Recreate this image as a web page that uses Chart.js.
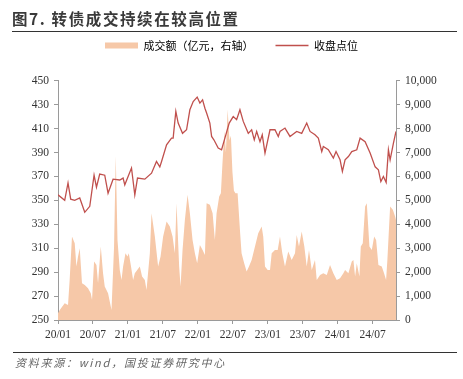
<!DOCTYPE html>
<html>
<head>
<meta charset="utf-8">
<script src="https://cdn.jsdelivr.net/npm/chart.js@4"></script>
<style>
  html, body { margin: 0; padding: 0; background: #fff; }
  #wrap { position: relative; width: 463px; height: 379px; overflow: hidden; }
  #title { position: absolute; left: 12px; top: 7px; font: bold 15.5px "Noto Sans CJK SC", sans-serif; color: #3a3a3a; letter-spacing: 1.6px; white-space: nowrap; }
  #rule1 { position: absolute; left: 12px; top: 31px; width: 445px; height: 0; border-top: 1.5px solid #333; }
  #rule2 { position: absolute; left: 13px; top: 352px; width: 444px; height: 0; border-top: 1.5px solid #333; }
  #source { position: absolute; left: 15px; top: 354px; font: italic 11px "Noto Sans CJK SC", sans-serif; color: #666; letter-spacing: 1.75px; white-space: nowrap; }
  canvas { position: absolute; left: 0; top: 0; }
</style>
</head>
<body>
<div id="wrap">
  <canvas id="c" width="463" height="379"></canvas>
  <div id="title">图7. 转债成交持续在较高位置</div>
  <div id="rule1"></div>
  <div id="rule2"></div>
  <div id="source">资料来源：wind，国投证券研究中心</div>
</div>
<script>
// x values are months since Jan 2020 (0 = 2020-01)
const tickLabels = ['20/01','20/07','21/01','21/07','22/01','22/07','23/01','23/07','24/01','24/07'];

const closeMonths = [0,1.15,1.72,2.18,2.87,3.73,4.59,5.45,6.19,6.6,7.16,8.02,8.59,9.45,10.6,11.17,11.46,12.61,13.18,13.64,14.9,16.05,16.9,17.47,17.77,18.63,19.48,19.76,20.22,20.62,21.37,22.06,22.63,23.2,23.88,24.35,24.81,25.21,25.5,26.06,26.36,26.75,27.49,28.07,28.64,29.38,30.07,30.65,31.22,31.79,32.65,33.23,33.68,34.09,34.66,35.05,35.52,36.38,37.23,37.8,38.09,38.95,39.81,40.96,41.82,42.68,43.25,44.1,44.67,45.26,45.53,46.39,47.25,47.71,48.4,48.8,49.26,49.83,50.41,51.27,51.84,52.7,53.56,54.42,54.98,55.4,55.84,56.31,56.7,56.99,57.56,58];
const closeValues = [354.6,350,364.6,351,350,352,340,345,371,361,372,371,356,367.7,367,368.6,363,377,354.6,368.6,367.7,372.7,382.5,378,382.5,396.4,402,402,424.3,414.6,406,409,425.7,432.6,436.3,431.3,434,427,423,414.6,403.4,400.6,393.7,392.3,402,414.6,420,417.4,425.7,416,406,409,400.6,407.6,399,404.8,389.5,409,409,403.4,407.6,410.4,403.4,407.6,406,414.6,407.6,404.8,402,390.8,395,392.3,385.3,390.8,383.9,374.1,383.9,386.6,390.8,392.3,402,399,389.5,378,375.5,365.7,370,365,392.3,383.9,397.9,407.6];

const volumeMonths = [0,0.3,1.15,1.72,2.0,2.4,2.87,3.16,3.44,3.73,4.12,4.59,5.15,5.62,5.84,6.19,6.6,6.87,7.34,7.73,8.02,8.59,9.18,9.62,9.91,10.21,10.6,10.9,11.17,11.58,11.92,12.15,12.49,12.89,13.18,14.04,14.43,14.9,15.19,15.76,16.05,16.62,17.18,17.6,18.04,18.63,19.19,19.66,20.05,20.34,20.79,21.03,21.37,21.77,22.23,22.63,23.09,23.49,23.88,24.35,24.81,25.21,25.5,26.06,26.53,26.92,27.21,27.66,27.95,28.21,28.56,28.81,29.11,29.42,29.67,29.93,30.19,30.45,30.82,31.22,31.5,31.95,32.37,32.77,33.23,33.8,34.36,34.95,35.22,35.52,35.98,36.38,36.67,37.23,37.7,38.09,38.49,38.95,39.51,40.1,40.67,40.96,41.35,41.82,42.27,42.68,43.07,43.54,44.1,44.4,44.97,45.53,46.12,46.68,47.25,47.83,48.4,48.97,49.26,49.83,50.41,50.69,50.98,51.27,51.72,51.96,52.3,52.7,52.99,53.44,53.85,54.25,54.59,54.98,55.56,55.95,56.3,56.52,56.99,57.46,57.85,58];
const volumeValues = [280,418,697,628,1674,3486,3207,2231,2650,3000,1534,1464,1325,1116,837,2440,2301,1534,3068,1953,1395,1116,418,3068,6862,3347,2092,1674,2231,2789,2650,2789,2301,1674,1953,2231,1813,1674,1255,2789,4463,3486,2231,2650,3486,4114,3904,3486,2789,4881,2231,1395,2929,4184,5230,4463,3347,2789,2371,3138,2929,2720,4881,4812,4463,3347,4463,5160,5300,6500,7900,7000,8800,7500,7700,6200,5400,5300,5300,3766,2789,2371,2022,2231,2510,3068,3626,3904,3486,2231,2092,2092,2789,2929,2929,3486,2789,2231,2859,2510,2789,3556,3068,3695,3068,2231,2929,2092,2510,1674,1883,1953,1883,2301,1953,1674,1743,1953,2092,1953,2440,2510,1813,2371,1813,3068,3207,4742,4881,3068,2929,3486,3347,2301,2231,1953,1674,2510,4742,4603,4323,4184];

const seriesNames = ['成交额（亿元，右轴）', '收盘点位'];

const FONT_NUM = '"Liberation Serif", "Noto Sans CJK SC", serif';
const FONT_CJK = '"Noto Sans CJK SC", sans-serif';
const AXIS = '#9a9a9a';
const TXT = '#333';

new Chart(document.getElementById('c'), {
  data: {
    datasets: [
      {
        type: 'line',
        label: seriesNames[0],
        data: volumeMonths.map((m, i) => ({ x: m, y: volumeValues[i] })),
        yAxisID: 'yR',
        borderColor: '#f6c8a8',
        backgroundColor: '#f6c8a8',
        borderWidth: 0,
        pointRadius: 0,
        tension: 0,
        fill: 'origin',
        order: 1
      },
      {
        type: 'line',
        label: seriesNames[1],
        data: closeMonths.map((m, i) => ({ x: m, y: closeValues[i] })),
        yAxisID: 'yL',
        borderColor: '#c0504d',
        backgroundColor: '#c0504d',
        borderWidth: 1.3,
        pointRadius: 0,
        tension: 0,
        fill: false,
        order: 0
      }
    ]
  },
  options: {
    responsive: false,
    animation: false,
    layout: { padding: { left: 0, right: 0, top: 18, bottom: 34 } },
    plugins: {
      tooltip: { enabled: false },
      subtitle: {
        display: true,
        text: ' ',
        position: 'top',
        weight: 500,
        font: { size: 1 },
        padding: { top: 0, bottom: 18.5 }
      },
      legend: {
        position: 'top',
        labels: {
          usePointStyle: true,
          pointStyleWidth: 33,
          boxHeight: 6,
          padding: 22,
          color: TXT,
          font: { family: FONT_CJK, size: 11 },
          generateLabels: (chart) => chart.data.datasets.map((ds, i) => ({
            text: ds.label,
            datasetIndex: i,
            fillStyle: ds.backgroundColor,
            strokeStyle: ds.fill ? ds.backgroundColor : ds.borderColor,
            lineWidth: ds.fill ? 0 : 1.5,
            pointStyle: ds.fill ? 'rect' : 'line',
            hidden: false
          }))
        }
      }
    },
    scales: {
      x: {
        type: 'linear',
        min: 0,
        max: 58,
        afterBuildTicks: (s) => { s.ticks = s.ticks.filter(t => Math.abs(t.value % 6) < 1e-9); },
        afterFit: (s) => { s.height = 25; },
        ticks: {
          stepSize: 6,
          autoSkip: false,
          maxRotation: 0,
          color: TXT,
          font: { family: FONT_NUM, size: 11.5 },
          padding: 4,
          callback: (v) => tickLabels[Math.round(v / 6)] ?? ''
        },
        grid: { drawOnChartArea: false, drawTicks: true, tickLength: 4, color: AXIS },
        border: { color: AXIS, width: 1 }
      },
      yL: {
        position: 'left',
        min: 250,
        max: 450,
        afterFit: (s) => { s.width = 58; },
        ticks: { stepSize: 20, color: TXT, font: { family: FONT_NUM, size: 11.5 }, padding: 5 },
        grid: { drawOnChartArea: false, tickLength: 4, color: AXIS },
        border: { color: AXIS, width: 1 }
      },
      yR: {
        position: 'right',
        min: 0,
        max: 10000,
        afterFit: (s) => { s.width = 67; },
        ticks: {
          stepSize: 1000, color: TXT, font: { family: FONT_NUM, size: 11.5 }, padding: 5,
          callback: (v) => v.toLocaleString('en-US')
        },
        grid: { drawOnChartArea: false, tickLength: 4, color: AXIS },
        border: { color: AXIS, width: 1 }
      }
    }
  }
});
</script>
</body>
</html>
